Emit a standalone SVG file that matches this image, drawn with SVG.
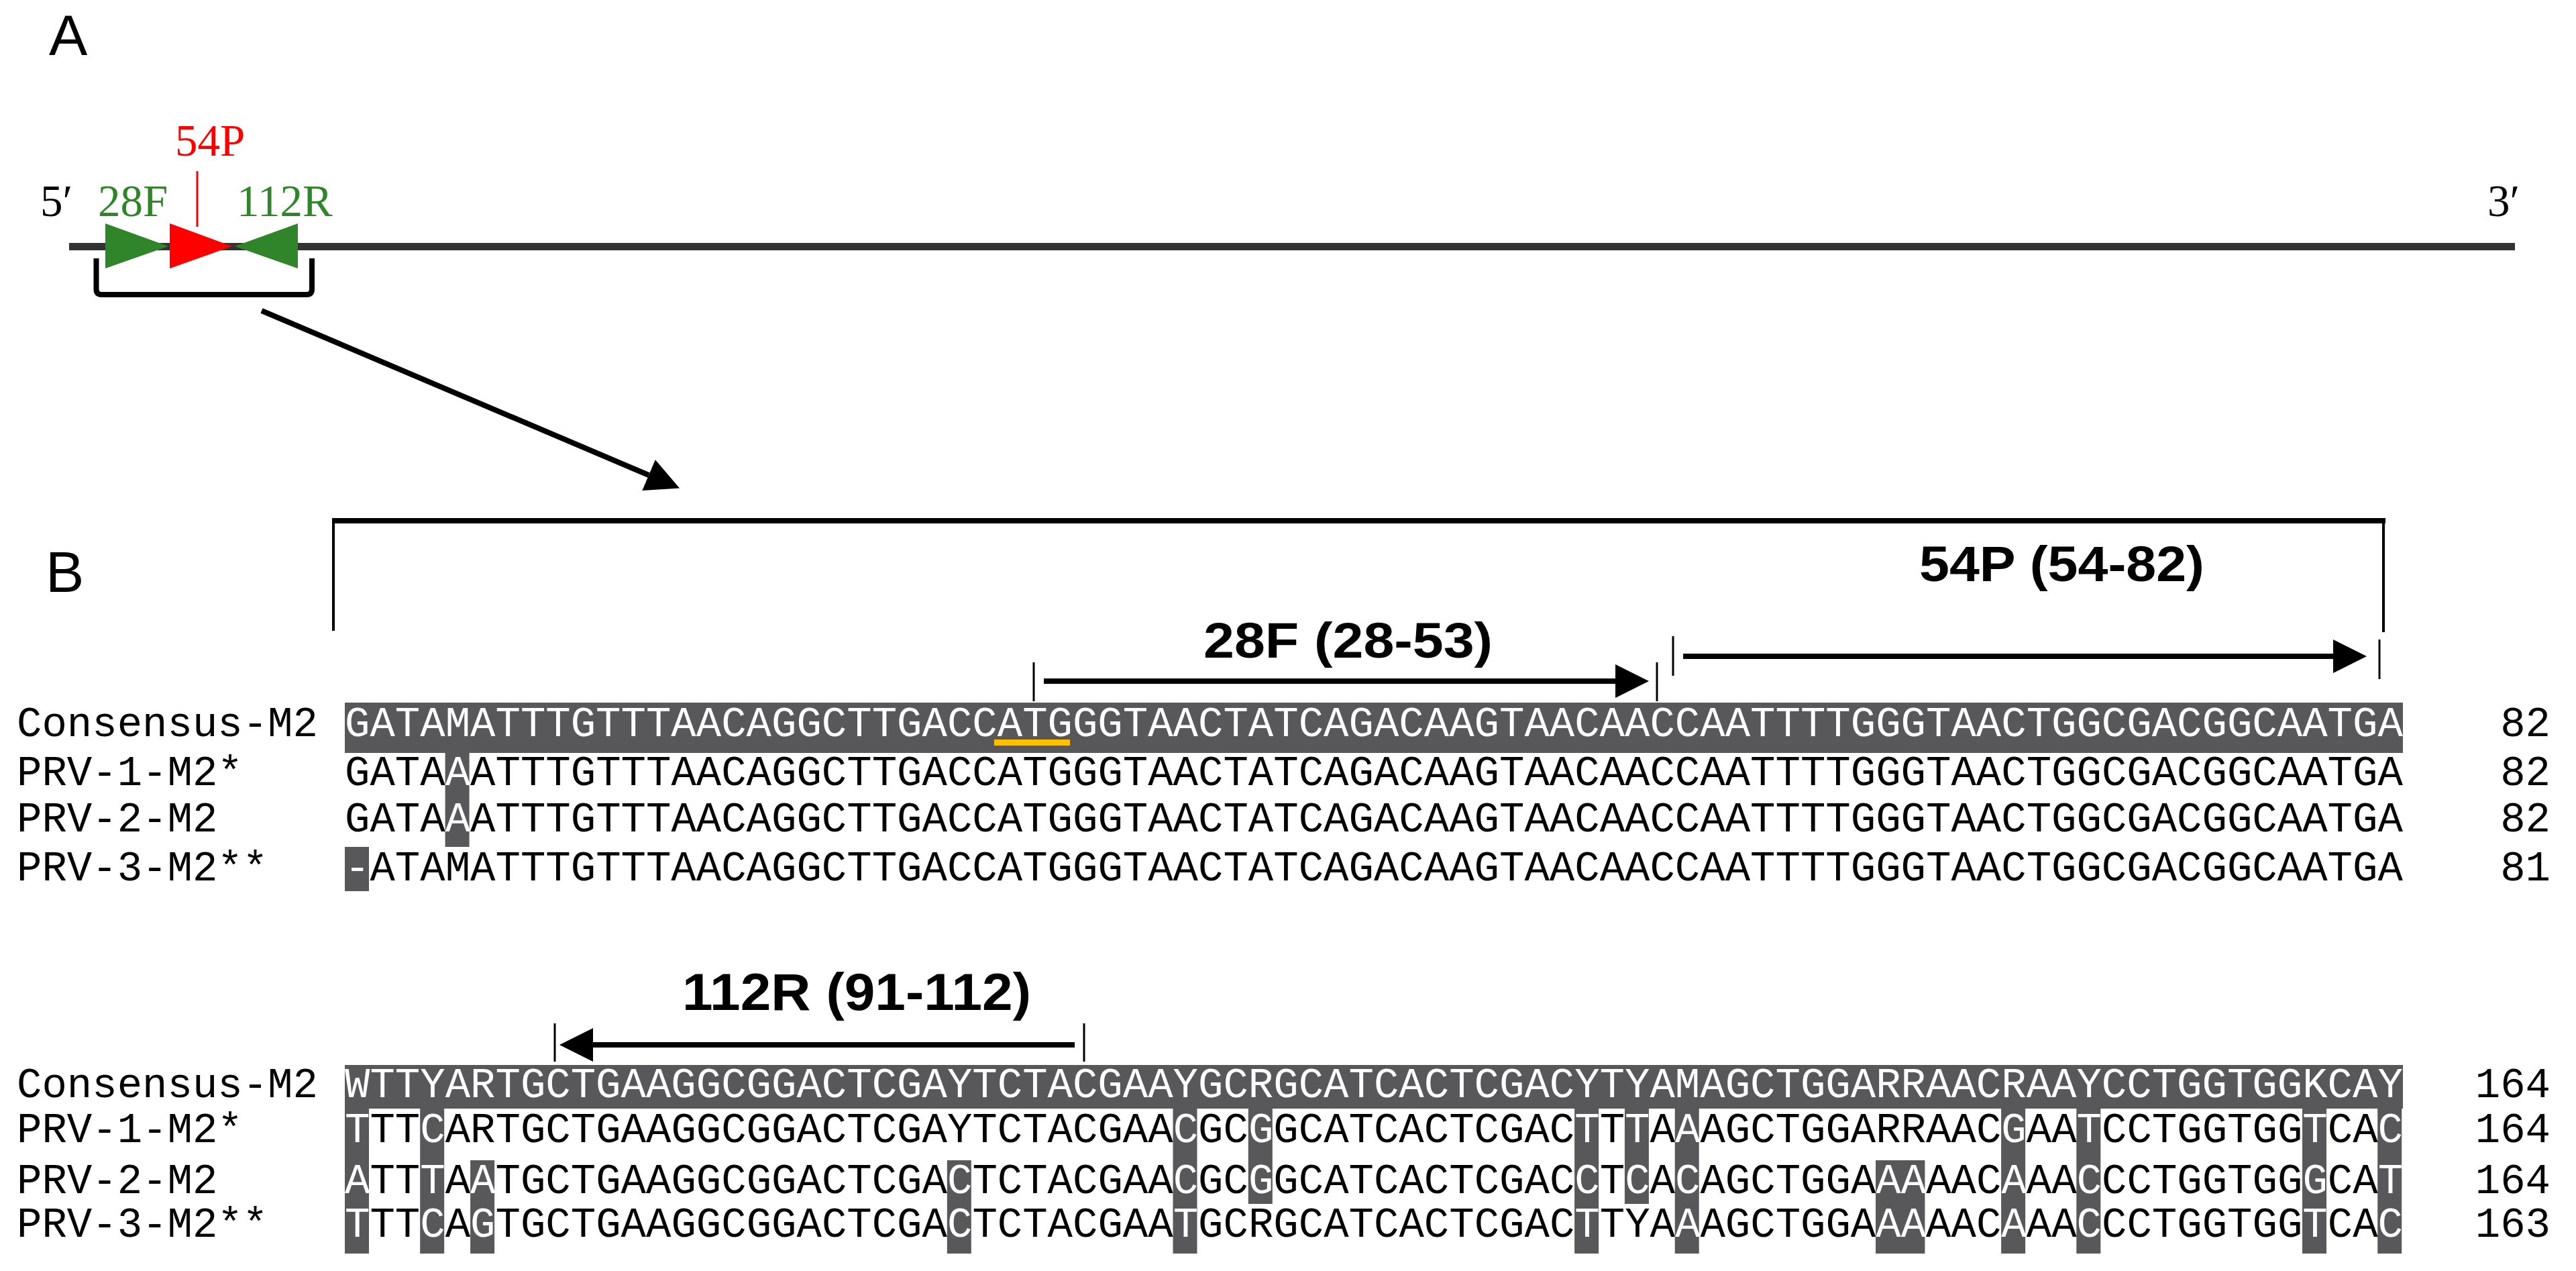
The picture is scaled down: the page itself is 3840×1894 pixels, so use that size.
<svg xmlns="http://www.w3.org/2000/svg" width="3840" height="1894" viewBox="0 0 3840 1894">
<defs>
<style>
.seq{font-family:"Liberation Mono","Courier New",monospace;font-size:62.35px;fill:#000}
.w{fill:#fff}
.hl{fill:#58585a}
.pl{font-family:"Liberation Sans",Arial,sans-serif;font-weight:bold;fill:#000}
.ser{font-family:"Liberation Serif","Times New Roman",serif;font-size:67px}
.big{font-family:"Liberation Sans",Arial,sans-serif;font-size:86px;fill:#000}
.tick{stroke:#000;stroke-width:3}
.arr{stroke:#000;stroke-width:8;fill:none}
.grn{fill:#30852b}
</style>
<marker id="ah" viewBox="0 0 50 50" refX="0" refY="25" markerWidth="50" markerHeight="50" markerUnits="userSpaceOnUse" orient="auto">
<path d="M0,0 L50,25 L0,50 z" fill="#000"/>
</marker>
</defs>
<rect width="3840" height="1894" fill="#fff"/>

<!-- Panel A -->
<g id="panelA">
<text class="big" x="73" y="82">A</text>
<rect id="genome" x="103" y="362" width="3646" height="11" fill="#333"/>
<text class="ser" x="60" y="322">5′</text>
<text class="ser" x="3708" y="322">3′</text>
<g id="primer28F">
<text class="ser grn" x="146" y="322">28F</text>
<polygon class="grn" points="157,333 157,400 251,367"/>
</g>
<g id="probe54P">
<text class="ser" x="261" y="232" fill="#ff0000">54P</text>
<line x1="294" y1="255" x2="294" y2="338" stroke="#ff0000" stroke-width="3"/>
<polygon points="253,333 253,400 346,367" fill="#ff0000"/>
</g>
<g id="primer112R">
<text class="ser grn" x="353" y="322">112R</text>
<polygon class="grn" points="444,333 444,400 350,367"/>
</g>
<path id="bracketA" d="M143.5,385 V431 Q143.5,439 151.5,439 H457 Q465,439 465,431 V385" fill="none" stroke="#000" stroke-width="8"/>
</g>

<!-- Connectors -->
<g id="connectors">
<line class="arr" x1="390" y1="463" x2="967" y2="708" marker-end="url(#ah)"/>
</g>

<!-- Panel B -->
<g id="panelB">
<text class="big" x="68" y="882">B</text>
<g id="bracketB">
<rect x="495" y="772" width="3061" height="8" fill="#000"/>
<line x1="497" y1="776" x2="497" y2="940" stroke="#000" stroke-width="4"/>
<line x1="3553" y1="776" x2="3553" y2="942" stroke="#000" stroke-width="4"/>
</g>
<g id="label28F">
<text class="pl" x="1794" y="980" font-size="74" textLength="431" lengthAdjust="spacingAndGlyphs">28F (28-53)</text>
<line class="tick" x1="1541" y1="987" x2="1541" y2="1045"/>
<line class="arr" x1="1556" y1="1015" x2="2408" y2="1015" marker-end="url(#ah)"/>
<line class="tick" x1="2470" y1="987" x2="2470" y2="1045"/>
</g>
<g id="label54P">
<text class="pl" x="2861" y="866" font-size="74" textLength="425" lengthAdjust="spacingAndGlyphs">54P (54-82)</text>
<line class="tick" x1="2494" y1="948" x2="2494" y2="1007"/>
<line class="arr" x1="2509" y1="978" x2="3478" y2="978" marker-end="url(#ah)"/>
<line class="tick" x1="3547" y1="953" x2="3547" y2="1012"/>
</g>
<g id="label112R">
<text class="pl" x="1017" y="1505" font-size="78" textLength="520" lengthAdjust="spacingAndGlyphs">112R (91-112)</text>
<line class="tick" x1="827" y1="1525" x2="827" y2="1582"/>
<line class="arr" x1="1602" y1="1557" x2="884" y2="1557" marker-end="url(#ah)"/>
<line class="tick" x1="1616" y1="1525" x2="1616" y2="1582"/>
</g>

<!-- Block 1 -->
<g id="block1">
<rect class="hl" x="514" y="1047" width="3068" height="75"/>
<rect class="hl" x="663.6" y="1122" width="36" height="140"/>
<rect class="hl" x="514" y="1262" width="36" height="66"/>
<rect x="1482" y="1102" width="113" height="9" fill="#ffc000"/>
<text class="seq" x="25" y="1097">Consensus-M2</text>
<text class="seq" x="25" y="1170">PRV-1-M2*</text>
<text class="seq" x="25" y="1239">PRV-2-M2</text>
<text class="seq" x="25" y="1312">PRV-3-M2**</text>
<text class="seq w" x="514" y="1097">GATAMATTTGTTTAACAGGCTTGACCATGGGTAACTATCAGACAAGTAACAACCAATTTTGGGTAACTGGCGACGGCAATGA</text>
<text class="seq" x="514" y="1170">GATA<tspan class="w">A</tspan>ATTTGTTTAACAGGCTTGACCATGGGTAACTATCAGACAAGTAACAACCAATTTTGGGTAACTGGCGACGGCAATGA</text>
<text class="seq" x="514" y="1239">GATA<tspan class="w">A</tspan>ATTTGTTTAACAGGCTTGACCATGGGTAACTATCAGACAAGTAACAACCAATTTTGGGTAACTGGCGACGGCAATGA</text>
<text class="seq" x="514" y="1312"><tspan class="w">-</tspan>ATAMATTTGTTTAACAGGCTTGACCATGGGTAACTATCAGACAAGTAACAACCAATTTTGGGTAACTGGCGACGGCAATGA</text>
<text class="seq" x="3802" y="1097" text-anchor="end">82</text>
<text class="seq" x="3802" y="1170" text-anchor="end">82</text>
<text class="seq" x="3802" y="1239" text-anchor="end">82</text>
<text class="seq" x="3802" y="1312" text-anchor="end">81</text>
</g>

<!-- Block 2 -->
<g id="block2">
<rect class="hl" x="514" y="1587" width="3068" height="65"/>
<rect class="hl" x="514" y="1652" width="36" height="216"/>
<rect class="hl" x="626.2" y="1652" width="36" height="216"/>
<rect class="hl" x="701.1" y="1729" width="36" height="139"/>
<rect class="hl" x="1411.8" y="1729" width="36" height="139"/>
<rect class="hl" x="1748.5" y="1652" width="36" height="216"/>
<rect class="hl" x="1860.8" y="1652" width="36" height="142"/>
<rect class="hl" x="2347.1" y="1652" width="36" height="216"/>
<rect class="hl" x="2421.9" y="1652" width="36" height="142"/>
<rect class="hl" x="2496.7" y="1652" width="36" height="216"/>
<rect class="hl" x="2796" y="1729" width="73.4" height="139"/>
<rect class="hl" x="2983.1" y="1652" width="36" height="216"/>
<rect class="hl" x="3095.3" y="1652" width="36" height="216"/>
<rect class="hl" x="3432" y="1652" width="36" height="216"/>
<rect class="hl" x="3544.2" y="1652" width="36" height="216"/>
<text class="seq" x="25" y="1635">Consensus-M2</text>
<text class="seq" x="25" y="1702">PRV-1-M2*</text>
<text class="seq" x="25" y="1778">PRV-2-M2</text>
<text class="seq" x="25" y="1843">PRV-3-M2**</text>
<text class="seq w" x="514" y="1635">WTTYARTGCTGAAGGCGGACTCGAYTCTACGAAYGCRGCATCACTCGACYTYAMAGCTGGARRAACRAAYCCTGGTGGKCAY</text>
<text class="seq" x="514" y="1702"><tspan class="w">T</tspan>TT<tspan class="w">C</tspan>ARTGCTGAAGGCGGACTCGAYTCTACGAA<tspan class="w">C</tspan>GC<tspan class="w">G</tspan>GCATCACTCGAC<tspan class="w">T</tspan>T<tspan class="w">T</tspan>A<tspan class="w">A</tspan>AGCTGGARRAAC<tspan class="w">G</tspan>AA<tspan class="w">T</tspan>CCTGGTGG<tspan class="w">T</tspan>CA<tspan class="w">C</tspan></text>
<text class="seq" x="514" y="1778"><tspan class="w">A</tspan>TT<tspan class="w">T</tspan>A<tspan class="w">A</tspan>TGCTGAAGGCGGACTCGA<tspan class="w">C</tspan>TCTACGAA<tspan class="w">C</tspan>GC<tspan class="w">G</tspan>GCATCACTCGAC<tspan class="w">C</tspan>T<tspan class="w">C</tspan>A<tspan class="w">C</tspan>AGCTGGA<tspan class="w">AA</tspan>AAC<tspan class="w">A</tspan>AA<tspan class="w">C</tspan>CCTGGTGG<tspan class="w">G</tspan>CA<tspan class="w">T</tspan></text>
<text class="seq" x="514" y="1843"><tspan class="w">T</tspan>TT<tspan class="w">C</tspan>A<tspan class="w">G</tspan>TGCTGAAGGCGGACTCGA<tspan class="w">C</tspan>TCTACGAA<tspan class="w">T</tspan>GCRGCATCACTCGAC<tspan class="w">T</tspan>TYA<tspan class="w">A</tspan>AGCTGGA<tspan class="w">AA</tspan>AAC<tspan class="w">A</tspan>AA<tspan class="w">C</tspan>CCTGGTGG<tspan class="w">T</tspan>CA<tspan class="w">C</tspan></text>
<text class="seq" x="3802" y="1635" text-anchor="end">164</text>
<text class="seq" x="3802" y="1702" text-anchor="end">164</text>
<text class="seq" x="3802" y="1778" text-anchor="end">164</text>
<text class="seq" x="3802" y="1843" text-anchor="end">163</text>
</g>
</g>
</svg>
